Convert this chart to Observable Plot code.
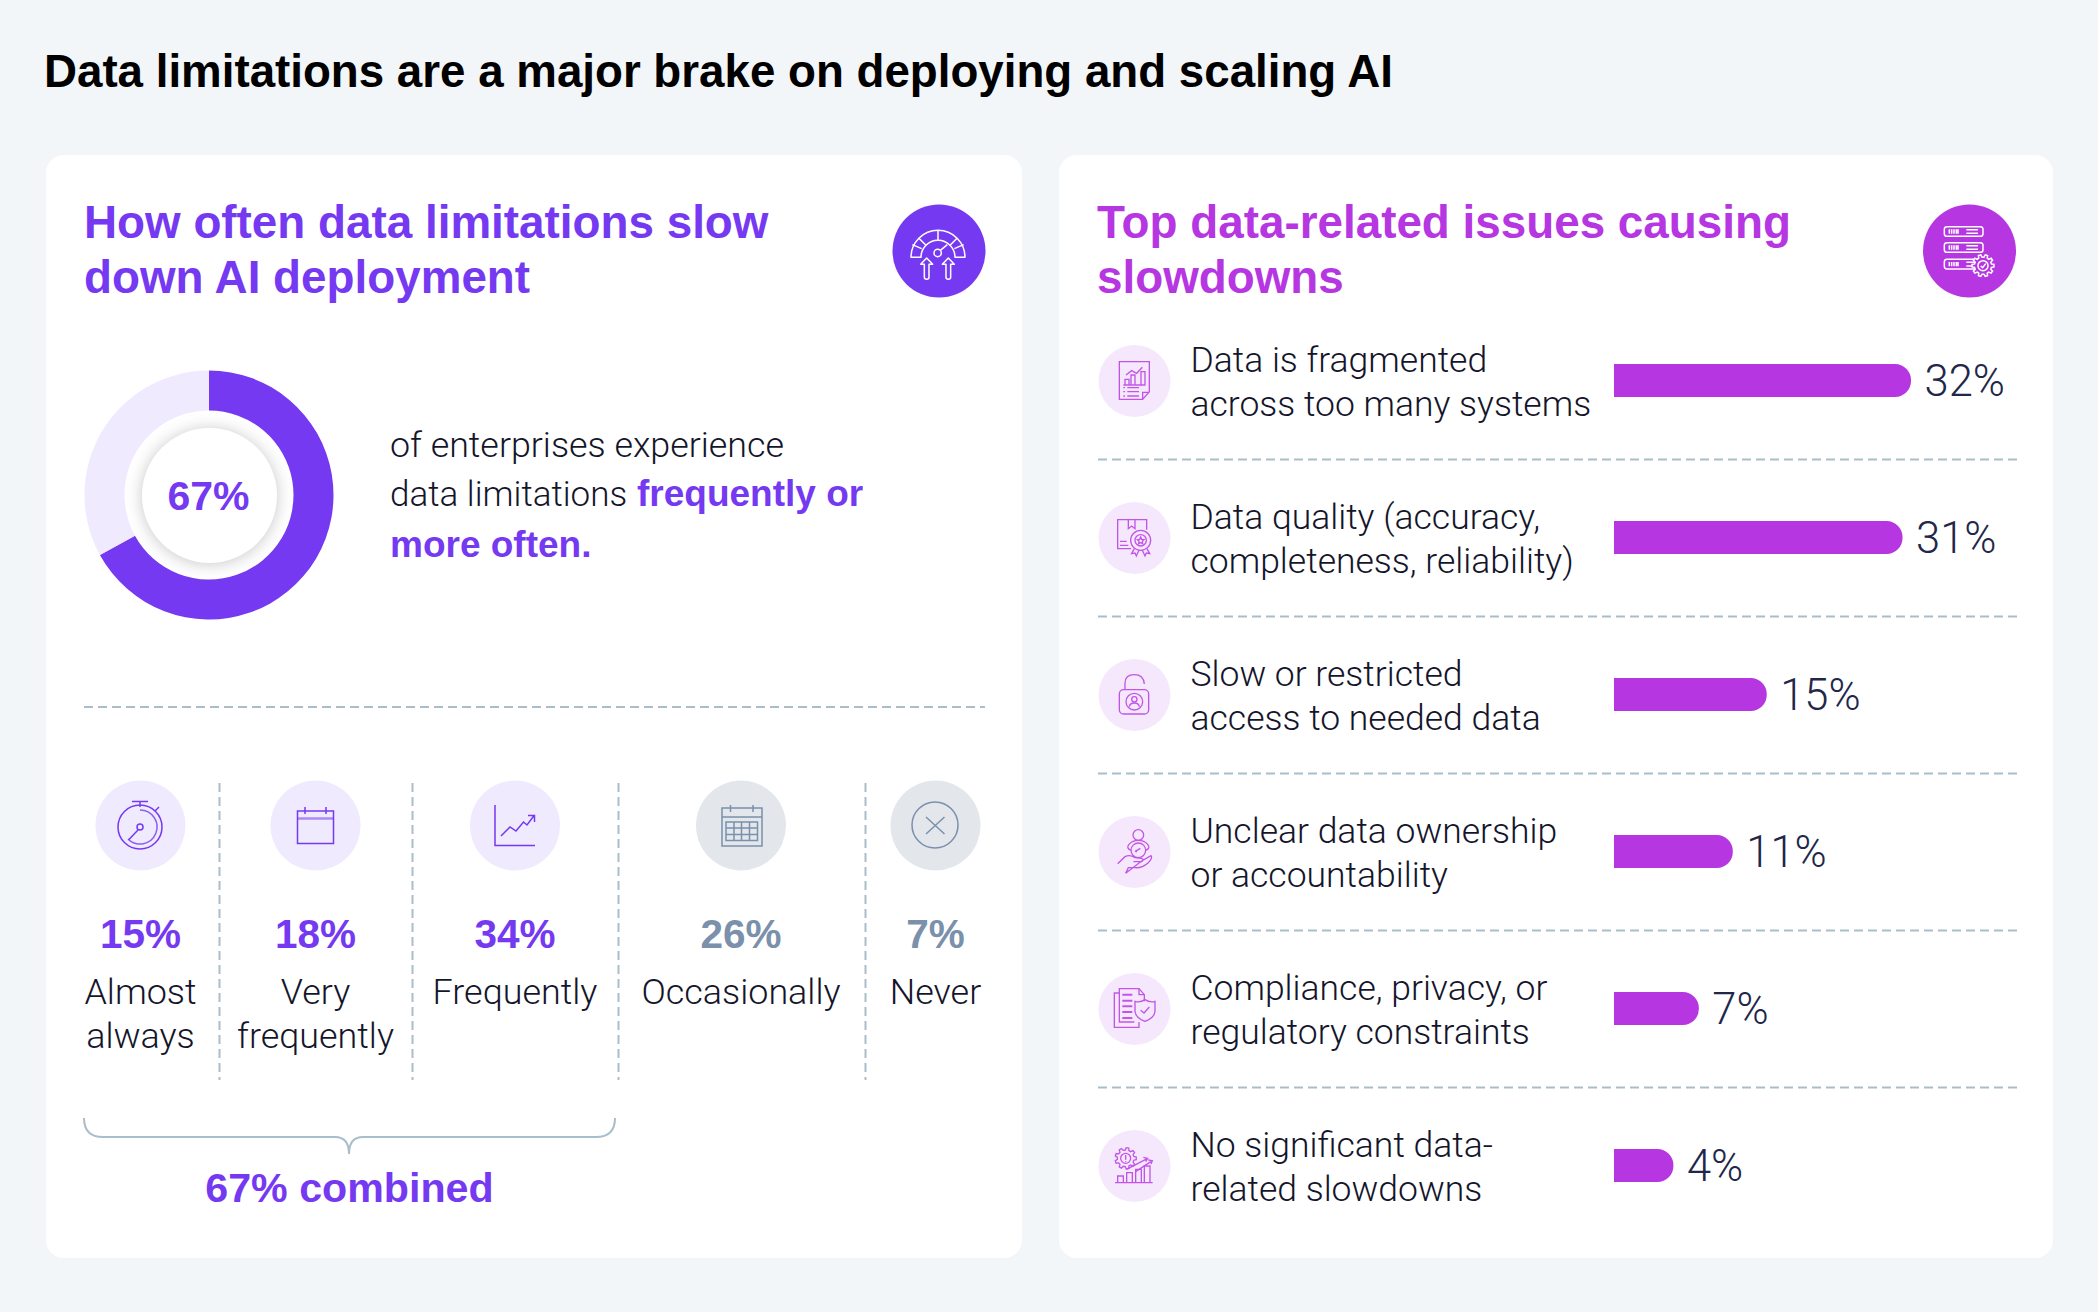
<!DOCTYPE html>
<html>
<head>
<meta charset="utf-8">
<script src="https://cdn.jsdelivr.net/npm/d3@7"></script>
<script src="https://cdn.jsdelivr.net/npm/@observablehq/plot@0.6"></script>
<style>
  html, body { margin: 0; padding: 0; background: #f3f6f9; }
  #page { position: relative; width: 2098px; height: 1312px; background: #f3f6f9; overflow: hidden; }
  .card { position: absolute; background: #fff; border-radius: 18px; }
  .t { position: absolute; white-space: pre; }
  .plot { position: absolute; }
  .plot svg { background: transparent; display: block; overflow: visible; }
  svg.overlay { position: absolute; left: 0; top: 0; pointer-events: none; }
</style>
</head>
<body>
<div id="page"></div>
<script>
// ---------- data ----------
const pageTitle = "Data limitations are a major brake on deploying and scaling AI";
const leftTitle = "How often data limitations slow\ndown AI deployment";
const rightTitle = "Top data-related issues causing\nslowdowns";
const donutShare = 67;
const donutLabel = "67%";
const frequencyLabels = ["Almost\nalways", "Very\nfrequently", "Frequently", "Occasionally", "Never"];
const frequencyValues = [15, 18, 34, 26, 7];
const frequencyCounted = [true, true, true, false, false];
const combinedLabel = "67% combined";
const issueLabels = [
  "Data is fragmented\nacross too many systems",
  "Data quality (accuracy,\ncompleteness, reliability)",
  "Slow or restricted\naccess to needed data",
  "Unclear data ownership\nor accountability",
  "Compliance, privacy, or\nregulatory constraints",
  "No significant data-\nrelated slowdowns"
];
const issueValues = [32, 31, 15, 11, 7, 4];

// ---------- styles ----------
const PURPLE = "#7539f2", MAGENTA = "#b636e2", GREY = "#7a90ab", INK = "#14152b", NAVY = "#22274a";
const DASH = "#a9bdcb";
const BOLD = "'Liberation Sans', Arial, sans-serif";
const LIGHT = "Roboto, 'Liberation Sans', sans-serif";
const page = document.getElementById("page");

function mount(el, left, top) {
  const d = document.createElement("div");
  d.className = "plot";
  d.style.left = left + "px"; d.style.top = top + "px";
  d.append(el); page.append(d);
}
function card(x, y, w, h) {
  const d = document.createElement("div");
  d.className = "card";
  Object.assign(d.style, {left: x + "px", top: y + "px", width: w + "px", height: h + "px"});
  page.append(d);
}
// text placed by first-line baseline
function text(html, x, baseline, size, lh, color, weight, family, metric) {
  const d = document.createElement("div");
  d.className = "t";
  d.textContent = html;
  Object.assign(d.style, {
    left: x + "px", top: (baseline - lh / 2 - metric * size) + "px",
    fontSize: size + "px", lineHeight: lh + "px", color, fontWeight: weight, fontFamily: family
  });
  page.append(d);
}

card(46, 155, 976, 1103);
card(1059, 155, 994, 1103);

text(pageTitle, 44, 88, 45.7, 54, "#000", 700, BOLD, 0.3465);
text(leftTitle, 84, 238, 45.8, 55, PURPLE, 700, BOLD, 0.3465);
text(rightTitle, 1097, 238, 45.8, 55, MAGENTA, 700, BOLD, 0.3465);
text("of enterprises experience", 390, 457, 35.8, 50, INK, 300, LIGHT, 0.3415);
text("data limitations", 390, 507, 35, 50, INK, 300, LIGHT, 0.3415);
text("frequently or", 637, 507, 37, 50, PURPLE, 700, BOLD, 0.3465);
text("more often.", 390, 558, 37, 50, PURPLE, 700, BOLD, 0.3465);

// ---------- donut ----------
const donutSlices = [
  {tone: "share", start: 0, end: donutShare},
  {tone: "rest", start: donutShare, end: 100}
];
mount(Plot.plot({
  width: 300, height: 300, margin: 0, axis: null,
  x: {domain: [0, 100], range: [0, 2 * Math.PI]},
  color: {domain: ["share", "rest"], range: [PURPLE, "#efeafd"]},
  marks: [
    Plot.barX(donutSlices, {
      x1: "start", x2: "end", fill: "tone",
      render(index, scales, values, dims) {
        const g = d3.create("svg:g").attr("transform", `translate(${dims.width / 2},${dims.height / 2})`);
        const arc = d3.arc().innerRadius(84.5).outerRadius(124.5);
        for (const i of index) {
          g.append("path")
            .attr("fill", values.fill[i])
            .attr("d", arc({startAngle: values.x1[i], endAngle: values.x2[i]}));
        }
        return g.node();
      }
    }),
    Plot.dot([0], {frameAnchor: "middle", r: 67.5, fill: "#fff",
      imageFilter: "drop-shadow(0px 1px 8px rgba(0,0,0,0.22))"}),
    Plot.text([donutLabel], {frameAnchor: "middle", dx: -1, dy: 1.5, fontSize: 41, fontWeight: 700,
      fontFamily: BOLD, fill: PURPLE})
  ]
}), 59, 345);

// ---------- frequency columns (left card, lower part) ----------
const columnCenters = [94, 269, 468.5, 694.5, 889];
const columnDividers = [173, 366, 572, 819];
const frequencyRows = frequencyLabels.map((label, i) => ({
  label, value: frequencyValues[i], counted: frequencyCounted[i], cx: columnCenters[i]
}));
const pctFill = d => d.counted ? PURPLE : GREY;
mount(Plot.plot({
  width: 976, height: 498, margin: 0, axis: null,
  x: {type: "identity"}, y: {type: "identity"},
  marks: [
    Plot.ruleX(columnDividers, {x: d => d, y1: () => 23, y2: () => 320, stroke: DASH, strokeWidth: 2, strokeDasharray: "9 5"}),
    Plot.dot(frequencyRows, {x: "cx", y: () => 65, r: 45, fill: d => d.counted ? "#efeafd" : "#e3e7ec"}),
    Plot.text(frequencyRows, {x: "cx", y: () => 187, lineAnchor: "bottom", text: d => d.value + "%",
      fontSize: 40.5, fontWeight: 700, fontFamily: BOLD, fill: pctFill}),
    Plot.text(frequencyRows, {x: "cx", y: () => 212, lineAnchor: "top", text: "label",
      fontSize: 35.9, fontWeight: 300, fontFamily: LIGHT, fill: INK, lineHeight: 44 / 35.9}),
    Plot.text([combinedLabel], {x: () => 303, y: () => 441, lineAnchor: "bottom",
      fontSize: 41.2, fontWeight: 700, fontFamily: BOLD, fill: PURPLE})
  ]
}), 46, 760);

// ---------- issue bars (right card) ----------
const issueRows = issueLabels.map((label, i) => ({label, value: issueValues[i]}));
const barOrigin = -3; // bars in the reference start below zero, giving every bar a stub
mount(Plot.plot({
  width: 994, height: 1103, margin: 0, marginLeft: 39, marginRight: 36, axis: null,
  x: {domain: [barOrigin, 32], range: [555, 852]},
  y: {domain: issueLabels, range: [147, 1089], paddingInner: 0.79, paddingOuter: 0.395},
  marks: [
    Plot.ruleY(issueLabels.slice(0, -1), {y: d => d, dy: 78.5, stroke: DASH, strokeWidth: 2, strokeDasharray: "9 5"}),
    Plot.dot(issueRows, {y: "label", frameAnchor: "left", dx: 36, r: 36, fill: "#f6e8fc"}),
    Plot.barX(issueRows, {x1: () => barOrigin, x2: "value", y: "label", fill: MAGENTA, rx2: 16}),
    Plot.text(issueRows, {y: "label", frameAnchor: "left", dx: 92, dy: -0.7, textAnchor: "start", text: "label",
      fontSize: 35.5, fontWeight: 300, fontFamily: LIGHT, fill: INK, lineHeight: 44 / 35.5}),
    Plot.text(issueRows, {x: "value", y: "label", dx: 13, dy: 1, textAnchor: "start", text: d => d.value + "%",
      fontSize: 43.5, fontWeight: 300, fontFamily: LIGHT, fill: NAVY})
  ]
}), 1059, 155);

// ---------- decorative line icons and brace ----------
function gearPath(cx, cy, r, teeth) {
  const pts = [];
  for (let i = 0; i < teeth; i++) {
    const a = (i / teeth) * 2 * Math.PI, w = Math.PI / teeth / 2;
    for (const [da, rr] of [[-w * 1.3, r * 0.78], [-w * 0.7, r], [w * 0.7, r], [w * 1.3, r * 0.78]]) {
      pts.push([cx + rr * Math.cos(a + da), cy + rr * Math.sin(a + da)]);
    }
  }
  return "M" + pts.map(p => p.map(v => v.toFixed(1)).join(" ")).join("L") + "Z";
}
const arrowAt = x => `M${x} 180L${x + 18} 199H${x + 7}V238Q${x + 7} 244 ${x} 244Q${x - 7} 244 ${x - 7} 238V199H${x - 18}Z`;
const serverRow = y => `<rect x="82" y="${y}" width="116" height="29" rx="8"/>
  <path d="M97 ${y + 8}v13M104 ${y + 8}v13M111 ${y + 8}v13M118 ${y + 8}v13M123 ${y + 8}v13M148 ${y + 9}h35M148 ${y + 20}h35"/>`;

const headerIcons = {
  gauge: `<g transform="translate(885,198) scale(.3333)" fill="none" stroke="#fff" stroke-width="4.5" stroke-linejoin="round">
    <path d="M78 178A81 81 0 0 1 240 178H210A51 51 0 0 0 108 178Z"/>
    <path d="M159 97V127M101 120L123 142M217 120L195 142M82 140L110 152M236 140L208 152"/>
    <circle cx="158" cy="165" r="11"/><path d="M166 157L187 140"/>
    <path d="${arrowAt(125)}"/><path d="${arrowAt(190)}"/></g>`,
  server: `<g transform="translate(1917,198) scale(.3333)" fill="none" stroke="#fff" stroke-width="4.5">
    ${serverRow(86)}${serverRow(134)}${serverRow(184)}
    <path d="${gearPath(198, 203, 33, 10)}" fill="${MAGENTA}"/>
    <circle cx="198" cy="203" r="15"/><path d="M191 204L197 209L206 197"/></g>`
};
const rowIcons = [
  `<path d="M73 65H163V155L143 178H73Z M143 178V157H163"/>
   <path d="M85 135H152M90 135V118H102V135M108 135V105H120V135M138 135V95H150V135"/>
   <path d="M93 105L110 92L125 100L142 82"/>
   <path d="M97 143H132M97 155H132M97 168H132M85 143H90M85 155H90M85 168H90"/>`,
  `<path d="M108 155H68V68H155V98"/><path d="M100 68V95L110 87L120 95V68"/>
   <path d="M75 133H95M75 145H100"/>
   <circle cx="137" cy="130" r="30"/><circle cx="137" cy="130" r="17"/>
   <path d="M137 120L140 127L147 128L142 133L143 140L137 137L131 140L132 133L127 128L134 127Z"/>
   <path d="M118 155L110 170L120 168L124 177L132 160M156 155L164 170L154 168L150 177L142 160"/>`,
  `<rect x="73" y="107" width="88" height="73" rx="13"/>
   <path d="M90 107V88Q90 62 118 62Q146 62 148 90"/>
   <circle cx="118" cy="143" r="25"/><circle cx="118" cy="136" r="8"/>
   <path d="M103 158Q105 147 118 147Q131 147 133 158"/>`,
  `<circle cx="130" cy="72" r="16"/><path d="M108 118Q92 112 102 100Q112 88 130 88Q148 88 158 100Q168 112 152 118"/>
   <circle cx="130" cy="118" r="22"/><path d="M120 122L136 112M124 116L124 124"/>
   <path d="M68 158L90 137Q105 130 120 140L140 142Q148 146 140 152L115 152M140 150L168 134Q174 140 160 155Q140 172 120 170L100 170L92 187Z"/>`,
  `<path d="M73 75H58V178H132V162"/>
   <path d="M118 162H73V62H132L148 80V100"/><path d="M132 62V80H148"/>
   <path d="M82 80H112M82 98H112M82 115H112M82 132H112M82 150H112" stroke-width="6"/>
   <path d="M150 95Q165 105 180 100V130Q178 150 150 160Q122 150 120 130V100Q135 105 150 95Z"/>
   <path d="M137 127L147 135L163 117"/>`,
  `<path d="${gearPath(92, 100, 32, 9)}"/><circle cx="92" cy="100" r="15"/><path d="M92 90V104M92 108V110"/>
   <path d="M95 133L158 100M145 97L158 100L152 110M122 140L172 107M160 105L172 107L168 117"/>
   <path d="M60 173H173M68 173V153H85V173M95 173V143H112V173M122 173V133H139V173M148 173V123H165V173"/>`
];
const columnIcons = `
  <g fill="none" stroke="${PURPLE}" stroke-width="1.5">
    <circle cx="140" cy="827" r="22"/><path d="M140 807V802M132 801.5H148M155 811L159 807"/>
    <path d="M140 810A17 17 0 1 1 128 839" stroke-opacity=".8"/><circle cx="140" cy="827" r="3"/><path d="M138 830L128.5 840"/>
  </g>
  <g fill="none" stroke="${PURPLE}" stroke-width="1.5">
    <rect x="297.5" y="811" width="36" height="32.5"/><path d="M305 807V814M326 807V814"/>
    <path d="M297.5 818.5H333.5" stroke-width="2.5" stroke-opacity=".55"/>
  </g>
  <g fill="none" stroke="${PURPLE}" stroke-width="1.5">
    <path d="M495 805V845.5H535"/><path d="M501 836L510 827L516 831L523.5 822L527 825L534.5 815M528 815.5H534.5V822"/>
  </g>
  <g fill="none" stroke="${GREY}" stroke-width="1.5">
    <rect x="722" y="808" width="40" height="38"/><path d="M722 817H762M730.5 805V812M753 805V812"/>
    <path d="M726 822H757.5V840.5H726ZM726 828H757.5M726 834.5H757.5M734 822V840.5M741.5 822V840.5M749.5 822V840.5"/>
  </g>
  <g fill="none" stroke="${GREY}" stroke-width="1.5">
    <circle cx="935" cy="825" r="23"/><path d="M926 817L944.5 834M944.5 817L926 834"/>
  </g>`;
const bracePath = "M84 1118Q84 1137 103 1137H335Q349 1137 349 1154Q349 1137 363 1137H596Q615 1137 615 1118";

const overlay = document.createElementNS("http://www.w3.org/2000/svg", "svg");
overlay.setAttribute("class", "overlay");
overlay.setAttribute("width", 2098); overlay.setAttribute("height", 1312);
overlay.innerHTML = `
  <circle cx="939" cy="251" r="46.5" fill="${PURPLE}"/>
  <circle cx="1969.5" cy="251" r="46.5" fill="${MAGENTA}"/>
  ${headerIcons.gauge}${headerIcons.server}
  ${rowIcons.map((body, i) => `<g transform="translate(1095,${340 + 157 * i}) scale(.3333)" fill="none" stroke="#c255e8" stroke-width="4">${body}</g>`).join("")}
  ${columnIcons}
  <path d="${bracePath}" fill="none" stroke="${DASH}" stroke-width="2"/>
  <line x1="84" x2="985" y1="707" y2="707" stroke="${DASH}" stroke-width="2" stroke-dasharray="9 5"/>`;
page.append(overlay);
</script>
</body>
</html>
